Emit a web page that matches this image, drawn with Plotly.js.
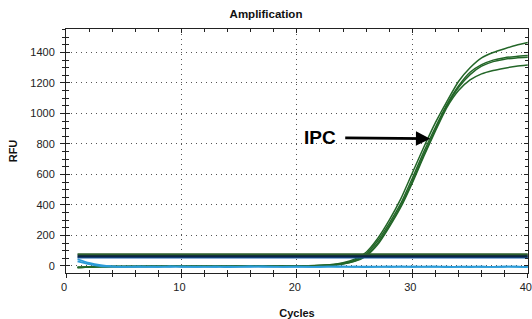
<!DOCTYPE html>
<html>
<head>
<meta charset="utf-8">
<script src="https://cdn.plot.ly/plotly-3.0.1.min.js"></script>
<style>html,body{margin:0;padding:0;background:#fff;}#chart{width:532px;height:319px;}</style>
</head>
<body>
<div id="chart"></div>
<script>
var cycles = [1,2,3,4,5,6,7,8,9,10,11,12,13,14,15,16,17,18,19,20,21,22,23,24,25,26,27,28,29,30,31,32,33,34,35,36,37,38,39,40];

var ipcA = [-8,-5,-4,-3,-3,-2,-2,-3,-2,-2,-1,-2,-1,-1,0,-1,0,0,1,1,2,5,10,22,45,90,180,300,440,610,780,940,1080,1210,1300,1365,1400,1425,1447,1465];
var ipcB = [-10,-6,-4,-4,-3,-3,-2,-2,-2,-3,-2,-1,-2,-1,-1,0,-1,0,0,1,1,3,7,18,38,78,165,280,410,575,750,910,1060,1180,1270,1320,1350,1366,1374,1380];
var ipcC = [-9,-6,-5,-4,-3,-3,-3,-2,-2,-2,-2,-1,-1,-2,-1,-1,0,-1,0,0,1,3,6,15,33,70,150,265,395,555,730,895,1050,1170,1255,1310,1340,1356,1364,1368];
var ipcD = [-11,-7,-5,-4,-4,-3,-3,-2,-3,-2,-2,-2,-1,-1,-1,-1,0,0,-1,0,1,2,5,13,30,65,140,255,385,545,720,885,1040,1150,1220,1260,1282,1297,1310,1318];

var base1 = [44,20,5,-3,-5,-4,-6,-5,-3,-5,-6,-4,-5,-7,-4,-3,-5,-6,-5,-4,-5,-6,-4,-3,-5,-7,-4,-5,-6,-5,-4,-5,-7,-5,-4,-5,-6,-5,-4,-6];
var base2 = [30,12,0,-4,-6,-5,-4,-6,-5,-4,-5,-6,-5,-4,-6,-5,-3,-4,-6,-5,-6,-5,-4,-6,-5,-4,-6,-5,-3,-5,-6,-4,-5,-6,-7,-5,-6,-4,-5,-7];

var thrX = [1, 40];
var thrGreen = 77;
var thrNavy = 66;
var thrBlue = 56;

var xTickVals = [0, 10, 20, 30, 40];
var yTickVals = [0, 200, 400, 600, 800, 1000, 1200, 1400];

var FONT = 'Arial, "Liberation Sans", sans-serif';
var XR = [0, 40.02], YR = [-46, 1554];

function curve(y, color, w) {
  return {x: cycles, y: y, type: 'scatter', mode: 'lines',
    line: {color: color, width: w, shape: 'spline', smoothing: 0.6},
    hoverinfo: 'skip', showlegend: false, cliponaxis: true};
}
function hline(v, color, w) {
  return {x: thrX, y: [v, v], type: 'scatter', mode: 'lines',
    xaxis: 'x2', yaxis: 'y2',
    line: {color: color, width: w}, hoverinfo: 'skip', showlegend: false};
}

var data = [
  curve(ipcA, '#236628', 1.5),
  curve(ipcB, '#236628', 1.5),
  curve(ipcC, '#236628', 1.5),
  curve(ipcD, '#236628', 1.5),
  curve(base2, '#2b9bd8', 1.8),
  curve(base1, '#2b9bd8', 1.8),
  hline(thrBlue, '#1d5fa8', 2),
  hline(thrNavy, '#0b2442', 3),
  hline(thrGreen, '#2d5e2d', 2)
];

var layout = {
  width: 532, height: 319,
  margin: {l: 66, r: 4, t: 29, b: 46, pad: 0},
  paper_bgcolor: '#fff', plot_bgcolor: '#fff',
  font: {family: FONT, size: 11, color: '#222'},
  title: {text: 'Amplification', font: {family: FONT, size: 11.5, weight: 'bold', color: '#111'},
          x: 0.5, xref: 'container', xanchor: 'center', y: 0.956, yref: 'container', yanchor: 'middle'},
  xaxis: {
    range: XR, tickvals: xTickVals, ticktext: xTickVals.map(String),
    ticks: 'outside', ticklen: 4, tickcolor: '#222', tickwidth: 1,
    minor: {dtick: 2, tick0: 0, ticks: 'outside', ticklen: 3, tickcolor: '#222', showgrid: false},
    showline: true, linecolor: '#222', linewidth: 1,
    showgrid: true, gridcolor: '#555', griddash: '1px,4px', gridwidth: 1,
    zeroline: false, tickfont: {size: 11, color: '#222'}, ticklabeloverflow: 'allow',
    ticklabelshift: -2,
    title: {text: 'Cycles', font: {size: 11, weight: 'bold', color: '#111'}, standoff: 18},
    automargin: false, fixedrange: true
  },
  yaxis: {
    range: YR, tickvals: yTickVals, ticktext: yTickVals.map(String),
    ticks: 'outside', ticklen: 5, tickcolor: '#222', tickwidth: 1,
    minor: {dtick: 50, tick0: 0, ticks: 'outside', ticklen: 3, tickcolor: '#222', showgrid: false},
    showline: true, linecolor: '#222', linewidth: 1,
    showgrid: true, gridcolor: '#555', griddash: '1px,4px', gridwidth: 1,
    zeroline: false, tickfont: {size: 11, color: '#222'}, ticklabelstandoff: 3,
    title: {text: 'RFU', font: {size: 11, weight: 'bold', color: '#111'}, standoff: 10},
    automargin: false, fixedrange: true
  },
  xaxis2: {
    range: XR, overlaying: 'x', anchor: 'y2', side: 'bottom',
    tickvals: xTickVals, ticks: 'inside', ticklen: 4, tickcolor: '#222',
    minor: {dtick: 2, tick0: 0, ticks: 'inside', ticklen: 3, tickcolor: '#222', showgrid: false},
    mirror: 'allticks', showline: true, linecolor: '#222', linewidth: 1,
    showticklabels: false, showgrid: false, zeroline: false, fixedrange: true
  },
  yaxis2: {
    range: YR, overlaying: 'y', anchor: 'x2', side: 'left',
    tickvals: yTickVals, ticks: 'inside', ticklen: 4, tickcolor: '#222',
    minor: {dtick: 50, tick0: 0, ticks: 'inside', ticklen: 3, tickcolor: '#222', showgrid: false},
    mirror: 'allticks', showline: true, linecolor: '#222', linewidth: 1,
    showticklabels: false, showgrid: false, zeroline: false, fixedrange: true
  },
  annotations: [{
    x: 31.55, y: 835, xref: 'x', yref: 'y',
    text: 'IPC', font: {family: FONT, size: 19, weight: 900, color: '#000'},
    showarrow: true, ax: -110.5, ay: -1, axref: 'pixel', ayref: 'pixel',
    arrowhead: 2, arrowsize: 1.1, arrowwidth: 2.6, arrowcolor: '#000',
    startstandoff: 8, standoff: 0
  }],
  showlegend: false
};

Plotly.newPlot('chart', data, layout, {displayModeBar: false, staticPlot: true});
</script>
</body>
</html>
